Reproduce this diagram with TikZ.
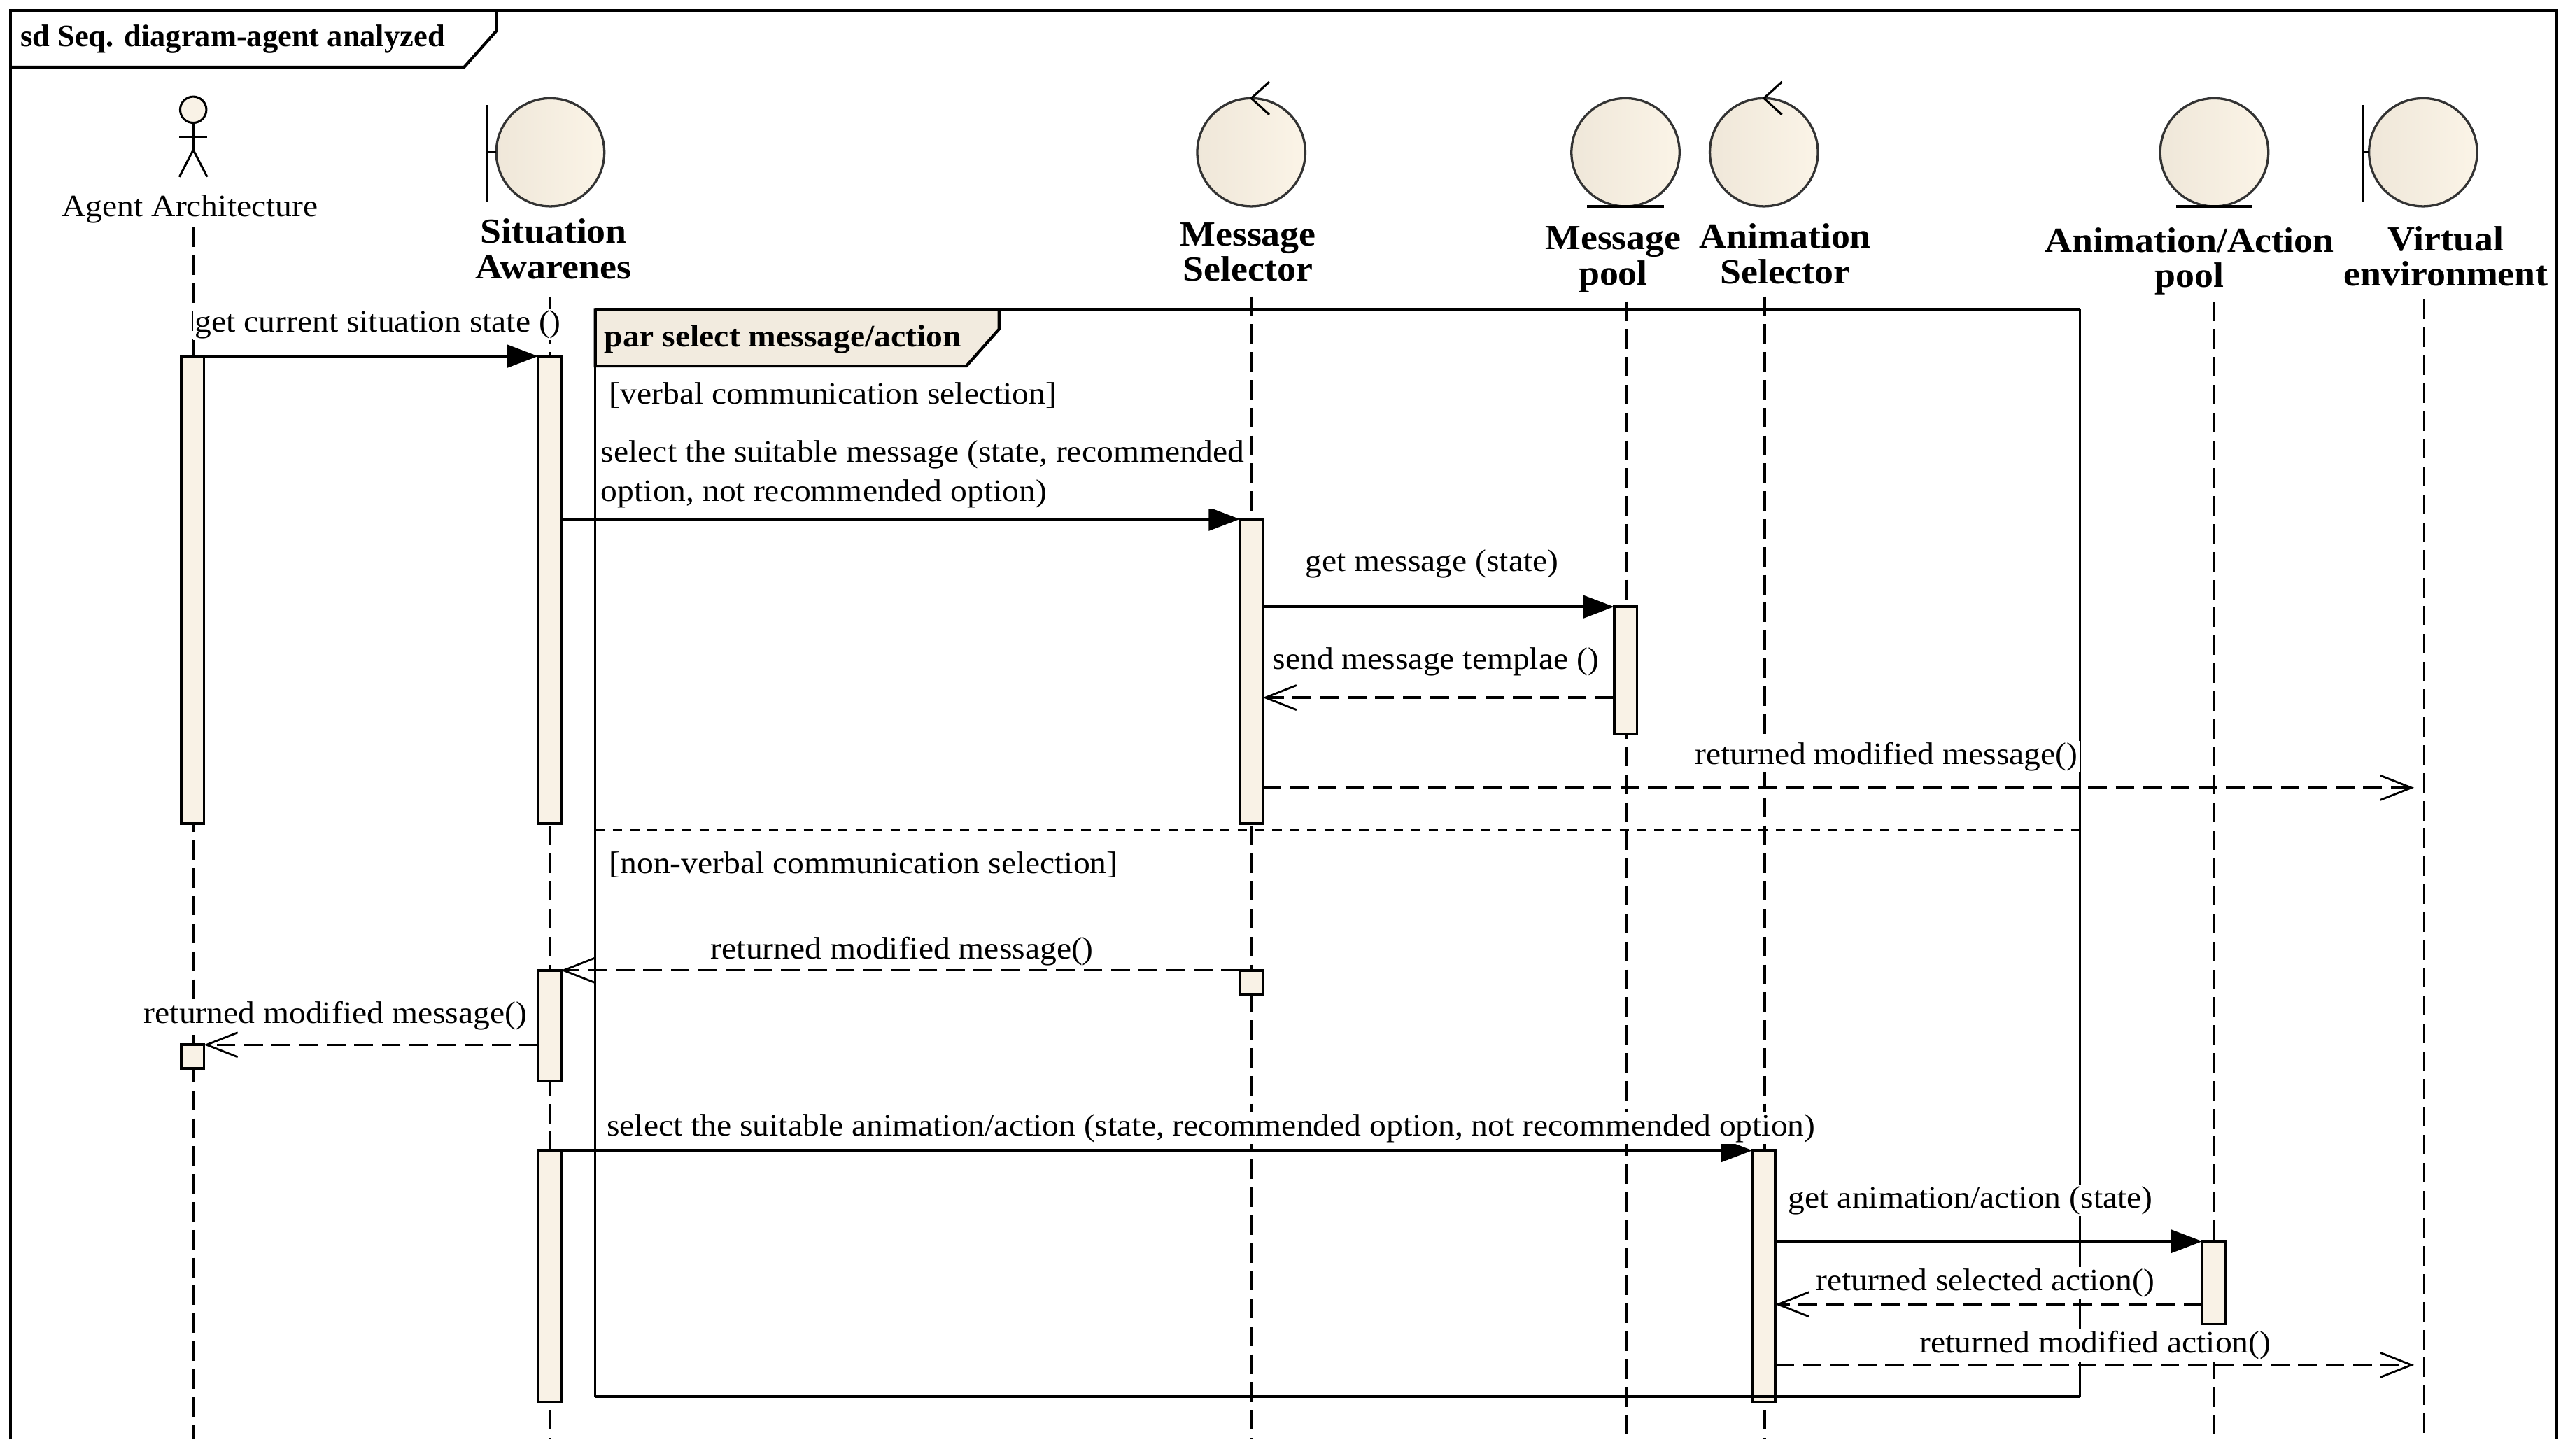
\documentclass[tikz,border=0pt]{standalone}
\usepackage{fontspec}
\setmainfont{Liberation Serif}
\newfontfamily\widefont[FakeStretch=1.07]{Liberation Serif}
\usetikzlibrary{arrows.meta,positioning}
\definecolor{actfill}{HTML}{F9F2E6}
\definecolor{shadeA}{HTML}{EFE7D9}
\definecolor{shadeB}{HTML}{FBF4E7}
\definecolor{tagfill}{HTML}{F2EBDF}
\tikzset{
  x=1pt,y=-1pt,
  every node/.style={inner sep=0pt,outer sep=0pt},
  ball/.style={circle,draw=black!80,line width=1.4pt,minimum size=66pt,left color=shadeA,right color=shadeB},
  actorlabel/.style={font=\widefont\fontsize{21.5}{22}\selectfont\bfseries,align=center},
  msglabel/.style={font=\widefont\fontsize{19}{24}\selectfont,fill=white,anchor=west,align=left,inner sep=1pt,yshift=-1pt},
  boldlabel/.style={font=\fontsize{19}{22}\selectfont\bfseries,anchor=west,yshift=-1pt},
  lifeline/.style={line width=1.3pt,dash pattern=on 12pt off 5pt},
  activation/.style={draw=black,line width=1.6pt,fill=actfill,minimum width=14pt,anchor=north},
  call/.style={line width=1.6pt,-{Triangle[length=19pt,width=14pt]}},
  reply/.style={line width=1.4pt,dash pattern=on 11.4pt off 5.4pt,-{Straight Barb[length=19pt,width=15pt,line width=1.2pt]}},
  framebox/.style={draw=black,line width=1.8pt},
  stick/.style={line width=1.3pt,draw=black},
}
\begin{document}
\begin{tikzpicture}
\useasboundingbox (0,0) rectangle (1568,889.1);
\fill[white] (0,0) rectangle (1568,889.1);

% outer frame
\draw[framebox] (6.3,879) -- (6.3,6.5) -- (1561,6.5) -- (1561,879);
\draw[framebox] (6.3,41) -- (283.4,41) -- (303,19) -- (303,6.5);
\node[boldlabel] (title) at (12.5,23) {sd Seq. diagram-agent analyzed};

% actor symbols
\node[circle,draw=black,line width=1.3pt,minimum size=16pt,fill=actfill] (agenthead) at (118,67) {};
\coordinate (hip) at (118,91.5);
\coordinate (armL) at (109.5,83.6);
\coordinate (armR) at (126.5,83.6);
\coordinate (legL) at (109.5,108);
\coordinate (legR) at (126.5,108);
\draw[stick] (agenthead.south) -- (hip);
\draw[stick] (armL) -- (armR);
\draw[stick] (legL) -- (hip) -- (legR);

\node[ball] (sa) at (336,93) {};
\node[ball] (ms) at (764,93) {};
\node[ball] (mp) at (992.5,93) {};
\node[ball] (as) at (1077,93) {};
\node[ball] (ap) at (1352,93) {};
\node[ball] (ve) at (1479.5,93) {};

% boundary marks
\coordinate (saT) at (297.7,64); \coordinate (saB) at (297.7,123); \coordinate (saM) at (297.7,93);
\draw[stick] (saT) -- (saB); \draw[stick] (saM) -- (sa.west);
\coordinate (veT) at (1442.5,64); \coordinate (veB) at (1442.5,123); \coordinate (veM) at (1442.5,93);
\draw[stick] (veT) -- (veB); \draw[stick] (veM) -- (ve.west);
% entity marks
\draw[line width=1.8pt] (mp.south west |- mp.south) -- (mp.south east |- mp.south);
\draw[line width=1.8pt] (ap.south west |- ap.south) -- (ap.south east |- ap.south);
% control marks
\coordinate (msU) at (775,50); \coordinate (msD) at (775,70);
\coordinate (asU) at (1088,50); \coordinate (asD) at (1088,70);
\draw[stick] (msU) -- (ms.north) -- (msD);
\draw[stick] (asU) -- (as.north) -- (asD);

% actor labels
\node[font=\widefont\fontsize{19}{22}\selectfont] (agentlabel) at (116,127.5) {Agent Architecture};
\node[actorlabel] (salabel) at (338,152) {Situation\\[-0.5pt]Awarenes};
\node[actorlabel] (mslabel) at (762,154) {Message\\[-0.5pt]Selector};
\node[actorlabel] (mplabel) at (985,158.5) {Message\\[-0.5pt]pool};
\node[actorlabel] (aslabel) at (1090,155) {Animation\\[-0.5pt]Selector};
\node[actorlabel] (aplabel) at (1337,159.5) {Animation/Action\\[-0.5pt]pool};
\node[actorlabel] (velabel) at (1493.5,156.5) {Virtual\\[-0.5pt]environment};

% lifeline ends
\coordinate (agStart) at (118,139); \coordinate (agEnd) at (118,879);
\coordinate (saStart) at (336,181); \coordinate (saEnd) at (336,879);
\coordinate (msStart) at (764,181); \coordinate (msEnd) at (764,879);
\coordinate (mpStart) at (993,184); \coordinate (mpEnd) at (993,879);
\coordinate (asStart) at (1077.5,181); \coordinate (asEnd) at (1077.5,879);
\coordinate (apStart) at (1352,184); \coordinate (apEnd) at (1352,879);
\coordinate (veStart) at (1480,183); \coordinate (veEnd) at (1480,879);
\foreach \a/\b in {agStart/agEnd,saStart/saEnd,msStart/msEnd,mpStart/mpEnd,asStart/asEnd,apStart/apEnd,veStart/veEnd}
  \draw[lifeline] (\a) -- (\b);

% par fragment
\coordinate (parTL) at (363.5,189); \coordinate (parTR) at (1270,189);
\coordinate (parBR) at (1270,852.7); \coordinate (parBL) at (363.5,852.7);
\coordinate (parTagA) at (610,189); \coordinate (parTagB) at (610,201);
\coordinate (parTagC) at (590,223.5); \coordinate (parTagD) at (363.5,223.5);
\draw[framebox,fill=tagfill] (parTL) -- (parTagA) -- (parTagB) -- (parTagC) -- (parTagD) -- cycle;
\draw[framebox] (parTL) -- (parTR);
\draw[line width=1.2pt] (parTR) -- (parBR);
\draw[line width=1.2pt] (parBL) -- (parTL);
\coordinate (divL) at (363.5,507); \coordinate (divR) at (1270,507);
\draw[line width=1.4pt,dash pattern=on 5.7pt off 4.9pt] (divL) -- (divR);
\node[boldlabel,font=\widefont\fontsize{19}{22}\selectfont\bfseries] (parlabel) at (369,206) {par select message/action};

% activations
\node[activation,minimum height=285.5pt] (ag1) at (117.5,217.5) {};
\node[activation,minimum height=14.5pt] (ag2) at (117.5,638) {};
\node[activation,minimum height=285.5pt] (sa1) at (335.5,217.5) {};
\node[activation,minimum height=67.5pt] (sa2) at (335.5,592.5) {};
\node[activation,minimum height=153.5pt] (sa3) at (335.5,702.5) {};
\node[activation,minimum height=186pt] (ms1) at (764,317) {};
\node[activation,minimum height=14.5pt] (ms2) at (764,592.5) {};
\node[activation,minimum height=77.5pt] (mp1) at (992.5,370.5) {};
\node[activation,minimum height=153.5pt] (as1) at (1077,702.5) {};
\node[activation,minimum height=50.5pt] (ap1) at (1351.7,758) {};

% par bottom edge runs over the activation
\draw[framebox] (parBR) -- (parBL);

% message anchors
\coordinate (m4) at (771,426);
\coordinate (m5a) at (771,481); \coordinate (m5b) at (1474,481);
\coordinate (m10) at (1084,796.5);
\coordinate (m11a) at (1084,833.5); \coordinate (m11b) at (1474,833.5);

% messages
\draw[call] (ag1.north east) -- (sa1.north west);
\draw[call] (sa1.east |- ms1.north) -- (ms1.north west);
\draw[call] (ms1.east |- mp1.north) -- (mp1.north west);
\draw[reply] (mp1.west |- m4) -- (m4);
\draw[reply] (m5a) -- (m5b);
\draw[reply] (ms2.north west) -- (sa2.north east);
\draw[reply] (sa2.west |- ag2.north) -- (ag2.north east);
\draw[call] (sa3.north east) -- (as1.north west);
\draw[call] (as1.east |- ap1.north) -- (ap1.north west);
\draw[reply] (ap1.west |- m10) -- (m10);
\draw[reply] (m11a) -- (m11b);

% message and guard labels
\node[msglabel] (l1) at (118,197) {get current situation state ()};
\node[msglabel] (g1) at (371,240.5) {[verbal communication selection]};
\node[msglabel] (l2) at (366,288.5) {select the suitable message (state, recommended\\option, not recommended option)};
\node[msglabel] (l3) at (796,343.5) {get message (state)};
\node[msglabel] (l4) at (776,403) {send message templae ()};
\node[msglabel] (l5) at (1034,461) {returned modified message()};
\node[msglabel] (g2) at (371,527) {[non-verbal communication selection]};
\node[msglabel] (l6) at (433,580) {returned modified message()};
\node[msglabel] (l7) at (87,619) {returned modified message()};
\node[msglabel] (l8) at (369.5,688) {select the suitable animation/action (state, recommended option, not recommended option)};
\node[msglabel] (l9) at (1091,732) {get animation/action (state)};
\node[msglabel] (l10) at (1108,782.5) {returned selected action()};
\node[msglabel] (l11) at (1171,820.5) {returned modified action()};
\end{tikzpicture}
\end{document}
